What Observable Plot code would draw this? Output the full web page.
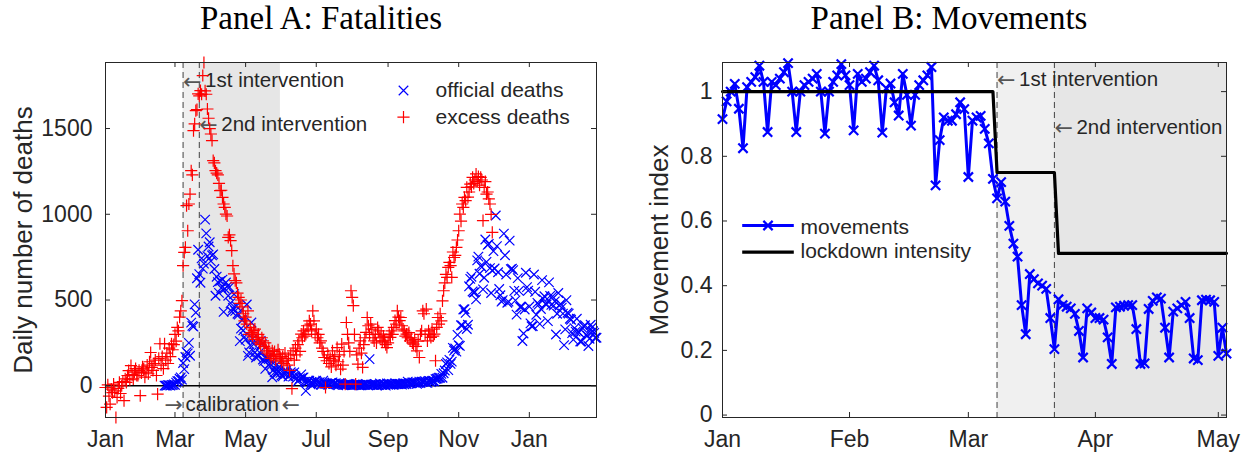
<!DOCTYPE html>
<html>
<head>
<meta charset="utf-8">
<script src="https://cdn.jsdelivr.net/npm/d3@7"></script>
<script src="https://cdn.jsdelivr.net/npm/@observablehq/plot@0.6"></script>
<style>
  body { margin: 0; background: #fff; }
  #fig { position: relative; width: 1252px; height: 456px; overflow: hidden; }
  .title {
    position: absolute; top: 0;
    font-family: "Liberation Serif", "Times New Roman", serif;
    font-size: 33px; line-height: 36.7px; color: #000;
    white-space: nowrap; transform: translateX(-50%);
  }
  .panel { position: absolute; top: 40px; }
</style>
</head>
<body>
<div id="fig">
  <div class="title" style="left:321px">Panel A: Fatalities</div>
  <div class="title" style="left:949px">Panel B: Movements</div>
  <div class="panel" id="panelA" style="left:0px"></div>
  <div class="panel" id="panelB" style="left:626px"></div>
</div>
<script>
// ---------- Panel A: daily deaths ----------
const excessStart = "2020-01-01";
const excessDeaths = [
  // Jan 2020
  -10, -126, 5, -60, -107, -20, -40, 10, -30, -185, -68, -15, 20, -45, 0, 25, -87, 40, 20, 60, 88, 35, 117, 65, 40, 80, 100, 60, 60, 90, -58,
  // Feb
  75, 110, 99, 50, 80, 120, 70, 140, 194, 107, 90, 130, 150, 60, -49, 160, 245, 120, 170, 100, 245, 150, 190, 130, 220, 170, 245, 210, 240,
  // Mar
  300, 260, 340, 320, 400, 437, 496, 700, 778, 807, 1050, 904, 1060, 1118, 1254, 1230, 1488, 1527, 1604, 1610, 1702, 1690, 1721, 1700, 1809, 1885, 1720, 1700, 1614, 1560, 1500,
  // Apr
  1468, 1430, 1313, 1300, 1254, 1240, 1230, 1180, 1138, 1140, 1099, 1060, 1040, 1001, 990, 865, 880, 846, 788, 700, 652, 613, 600, 540, 515, 480, 500, 460, 420, 379,
  // May
  400, 360, 437, 300, 340, 310, 290, 321, 330, 270, 282, 300, 250, 240, 280, 262, 230, 250, 204, 190, 220, 180, 160, 204, 170, 200, 150, 180, 210, 185, 160,
  // Jun
  140, 170, 130, 190, 146, 120, 160, 90, 180, -17, 204, 150, 220, 180, 240, 262, 200, 301, 280, 320, 290, 300, 350, 330, 379, 360, 320, 437, 379, 300,
  // Jul
  330, 280, 300, 250, 262, 220, 200, 165, -10, 146, 180, 130, 160, 110, 204, 150, 170, 120, 223, 140, 180, 97, 243, 120, 200, 10, 369, 300, 250, 200, 554,
  // Aug
  515, 467, 300, 10, 180, 126, 220, 262, 190, 107, 240, 280, 311, 398, 350, 300, 359, 330, 280, 262, 300, 250, 340, 320, 280, 301, 260, 290, 262, 240, 223,
  // Sep
  250, 300, 282, 320, 300, 340, 380, 360, 437, 400, 380, 398, 350, 330, 320, 290, 301, 280, 310, 262, 280, 250, 243, 270, 230, 204, 260, 165, 300, 320,
  // Oct
  437, 420, 300, 447, 262, 320, 300, 282, 330, 290, 301, 146, 340, 398, 360, 420, 379, 495, 554, 600, 650, 632, 690, 720, 700, 632, 780, 748, 760, 807, 850,
  // Nov
  904, 1001, 960, 1060, 1040, 1099, 1080, 1157, 1100, 1130, 1176, 1160, 1215, 1180, 1200, 1235, 1190, 1220, 1170, 1215, 1200, 963, 1157, 1190, 1118, 1130, 1090, 1060, 1000, 894
];

const officialStart = "2020-02-21";
const officialDeaths = [
  // Feb 21-29 2020
  1, 1, 1, 4, 4, 1, 5, 4, 8,
  // Mar
  5, 18, 27, 28, 41, 49, 36, 133, 97, 168, 196, 189, 250, 175, 368, 349, 345, 475, 427, 627, 793, 651, 601, 743, 683, 712, 969, 889, 756, 812, 837,
  // Apr
  727, 760, 766, 681, 525, 636, 604, 542, 610, 570, 619, 431, 566, 602, 578, 525, 575, 482, 433, 454, 534, 437, 464, 420, 415, 260, 333, 382, 323, 285,
  // May
  269, 474, 174, 195, 236, 369, 274, 243, 194, 165, 179, 172, 195, 262, 242, 153, 145, 99, 162, 161, 156, 130, 119, 50, 92, 78, 117, 70, 87, 111, 75,
  // Jun
  60, 55, 71, 88, 85, 72, 53, 65, 79, 71, 53, 78, 55, 44, 26, 34, 43, 66, 47, 49, 24, -30, 18, 30, 30, 8, 22, 6, 23, 22,
  // Jul
  30, 21, 15, 21, 7, 8, 30, 12, 12, 12, 7, 7, 13, 17, 20, 11, 13, 14, 9, 3, 15, 11, 9, 5, 5, 5, 5, 11, 10, 8, 5,
  // Aug
  3, 4, 8, 5, 6, 6, 3, 5, 3, 4, 5, 6, 10, 6, 3, 155, 7, 7, 6, 6, 9, 3, 4, 4, 13, 5, 5, 9, 9, 1, 13,
  // Sep
  6, 10, 6, 10, 7, 7, 14, 10, 10, 10, 10, 10, 7, 14, 9, 13, 10, 24, 14, 15, 14, 20, 20, 17, 20, 11, 17, 24, 16, 24,
  // Oct
  23, 24, 27, 18, 17, 28, 27, 22, 28, 29, 26, 39, 41, 43, 47, 47, 69, 47, 73, 89, 127, 136, 91, 151, 128, 141, 221, 205, 217, 199, 297,
  // Nov
  236, 233, 353, 352, 445, 446, 425, 331, 356, 580, 623, 636, 550, 544, 546, 504, 731, 753, 653, 699, 692, 562, 630, 853, 722, 822, 827, 686, 541, 672,
  // Dec
  785, 684, 993, 814, 662, 564, 528, 491, 499, 887, 761, 649, 484, 491, 846, 680, 683, 674, 553, 498, 415, 628, 553, 459, 459, 261, 305, 445, 659, 575, 555,
  // Jan 2021
  462, 364, 347, 348, 649, 548, 414, 483, 473, 361, 448, 616, 507, 522, 477, 475, 377, 603, 524, 472, 521, 467, 492, 299, 420, 541, 467, 477, 456, 421, 237,
  // Feb 2021
  329, 499, 426, 421, 391, 385, 307, 269, 336, 316, 391, 316, 311, 258, 258, 336, 347, 353, 297, 293, 232, 274, 356, 340, 318, 308, 280, 280
];

const interventionDates = ["2020-03-08", "2020-03-22"];
const interventionLabels = ["1st intervention", "2nd intervention"];
const calibrationStart = "2020-02-21";
const calibrationEnd = "2020-05-31";
const calibrationLabel = "calibration";
const panelAMonthTicks = ["2020-01-01", "2020-03-01", "2020-05-01", "2020-07-01", "2020-09-01", "2020-11-01", "2021-01-01"];
const deathTicks = [0, 500, 1000, 1500];
const panelALegend = ["official deaths", "excess deaths"];

// ---------- Panel B: movements ----------
const movementStart = "2020-01-01";
const movementIndex = [
  // Jan
  0.915, 0.97, 1.0, 1.024, 0.947, 0.825, 1.014, 1.03, 1.045, 1.08, 1.03, 0.875, 1.03, 1.02, 1.04, 1.06, 1.088, 1.0, 0.875, 1.0, 1.02, 1.03, 1.04, 1.055, 1.0, 0.87, 1.0, 1.03, 1.05, 1.085, 1.05,
  // Feb
  1.02, 0.88, 1.055, 1.03, 1.04, 1.06, 1.08, 1.035, 0.873, 1.01, 1.025, 0.967, 0.926, 1.055, 0.99, 0.895, 0.99, 1.02, 1.035, 1.05, 1.076, 0.71, 0.85, 0.92, 0.91, 0.91, 0.93, 0.967, 0.946,
  // Mar
  0.736, 0.91, 0.92, 0.925, 0.885, 0.84, 0.73, 0.67, 0.72, 0.66, 0.585, 0.53, 0.49, 0.34, 0.25, 0.436, 0.42, 0.407, 0.40, 0.39, 0.30, 0.204, 0.358, 0.34, 0.335, 0.33, 0.313, 0.26, 0.178, 0.33, 0.317,
  // Apr
  0.30, 0.30, 0.295, 0.24, 0.158, 0.333, 0.335, 0.338, 0.34, 0.34, 0.266, 0.158, 0.16, 0.328, 0.353, 0.364, 0.36, 0.27, 0.178, 0.32, 0.33, 0.34, 0.35, 0.30, 0.175, 0.17, 0.355, 0.357, 0.355, 0.35,
  // May 1-3
  0.183, 0.27, 0.19
];
const lockdownDates = ["2020-01-01", "2020-03-07", "2020-03-08", "2020-03-22", "2020-03-23", "2020-05-03"];
const lockdownIntensity = [1, 1, 0.75, 0.75, 0.5, 0.5];
const panelBMonthTicks = ["2020-01-01", "2020-02-01", "2020-03-01", "2020-04-01", "2020-05-01"];
const movementTicks = [0, 0.2, 0.4, 0.6, 0.8, 1];
const movementDomain = [-0.0075, 1.09];
const panelBLegend = ["movements", "lockdown intensity"];

// ---------- helpers ----------
const parse = d3.utcParse("%Y-%m-%d");
const daily = (start, values) => values.map((v, i) => ({date: d3.utcDay.offset(parse(start), i), value: v}));
const ink = "#262626";
const arrowInk = "#555";
const blue = "#0000ff";
const red = "#ff0000";
const fontFamily = "'Liberation Sans', Arial, Helvetica, sans-serif";
const arrowFont = "'DejaVu Sans', sans-serif";
const tickFont = 23;
const noteFont = 20.5;
const legendFont = 21;
const W = 626, H = 416;

// horizontal line symbol for legend samples
const hline = {
  draw(ctx, size) {
    const r = Math.sqrt(size / Math.PI);
    ctx.moveTo(-r, 0);
    ctx.lineTo(r, 0);
  }
};

// inward ticks on all four sides of the box
function boxTicks(xTicks, yTicks, innerW, innerH) {
  return [
    Plot.tickX(xTicks, {x: d => d, insetTop: innerH - 5, stroke: ink}),
    Plot.tickX(xTicks, {x: d => d, insetBottom: innerH - 5, stroke: ink}),
    Plot.tickY(yTicks, {y: d => d, insetRight: innerW - 5, stroke: ink}),
    Plot.tickY(yTicks, {y: d => d, insetLeft: innerW - 5, stroke: ink})
  ];
}

// "← label" notes hanging off the intervention lines
function interventionNotes(dyList) {
  return interventionDates.flatMap((d, i) => [
    Plot.text([parse(d)], {x: d => d, text: () => "←", frameAnchor: "top", textAnchor: "start", lineAnchor: "bottom",
      dy: dyList[i] + 1.5, fontSize: 22, fontFamily: arrowFont, fill: arrowInk}),
    Plot.text([parse(d)], {x: d => d, text: () => interventionLabels[i], frameAnchor: "top", textAnchor: "start", lineAnchor: "bottom",
      dx: 22, dy: dyList[i], fontSize: noteFont, fill: ink})
  ]);
}

// ---------- Panel A ----------
{
  const m = {left: 105, right: 30, top: 22, bottom: 39};
  const innerW = W - m.left - m.right, innerH = H - m.top - m.bottom;
  const excess = daily(excessStart, excessDeaths);
  const official = daily(officialStart, officialDeaths);
  const iv = interventionDates.map(parse);
  const calEnd = parse(calibrationEnd);
  const calStart = parse(calibrationStart);
  const xTicks = panelAMonthTicks.map(parse);
  const calibDy = -6.7;

  const plot = Plot.plot({
    width: W, height: H,
    marginLeft: m.left, marginRight: m.right, marginTop: m.top, marginBottom: m.bottom,
    style: {fontFamily, color: ink, background: "transparent", overflow: "visible"},
    x: {type: "utc", domain: d3.extent([...excess, ...official], d => d.date)},
    y: {domain: d3.extent(excess, d => d.value)},
    marks: [
      Plot.rect([{a: iv[0], b: calEnd}], {x1: "a", x2: "b", fill: "#f0f0f0"}),
      Plot.rect([{a: iv[1], b: calEnd}], {x1: "a", x2: "b", fill: "#e6e6e6"}),
      Plot.ruleX(iv, {x: d => d, stroke: "#444", strokeDasharray: "6,4", strokeWidth: 1}),
      Plot.ruleY([0], {stroke: "#000", strokeWidth: 1.3}),
      ...interventionNotes([24.7, 68]),
      // →calibration← along the bottom of the box
      Plot.text([calStart], {x: d => d, text: () => "→", frameAnchor: "bottom", textAnchor: "start", lineAnchor: "bottom",
        dy: calibDy + 1.5, fontSize: 22, fontFamily: arrowFont, fill: arrowInk}),
      Plot.text([calStart], {x: d => d, text: () => calibrationLabel, frameAnchor: "bottom", textAnchor: "start", lineAnchor: "bottom",
        dx: 21, dy: calibDy, fontSize: noteFont, fill: ink}),
      Plot.text([calStart], {x: d => d, text: () => "←", frameAnchor: "bottom", textAnchor: "start", lineAnchor: "bottom",
        dx: 117, dy: calibDy + 1.5, fontSize: 22, fontFamily: arrowFont, fill: arrowInk}),
      Plot.dot(official, {x: "date", y: "value", symbol: "times", r: 4.4, stroke: blue, strokeWidth: 1.2}),
      Plot.dot(excess, {x: "date", y: "value", symbol: "plus", r: 4, stroke: red, strokeWidth: 1.2}),
      // legend
      Plot.dot([panelALegend[0]], {frameAnchor: "top-left", dx: 298, dy: 28, symbol: "times", r: 4.4, stroke: blue, strokeWidth: 1.2}),
      Plot.dot([panelALegend[1]], {frameAnchor: "top-left", dx: 298, dy: 54.7, symbol: "plus", r: 4, stroke: red, strokeWidth: 1.2}),
      Plot.text([panelALegend[0]], {text: d => d, frameAnchor: "top-left", textAnchor: "start", lineAnchor: "bottom",
        dx: 330, dy: 34.7, fontSize: legendFont, fill: ink}),
      Plot.text([panelALegend[1]], {text: d => d, frameAnchor: "top-left", textAnchor: "start", lineAnchor: "bottom",
        dx: 330, dy: 61.2, fontSize: legendFont, fill: ink}),
      Plot.text(["Daily number of deaths"], {text: d => d, frameAnchor: "left", textAnchor: "middle", rotate: -90,
        dx: -81.7, fontSize: 26, fill: ink}),
      ...boxTicks(xTicks, deathTicks, innerW, innerH),
      Plot.axisX({ticks: xTicks, tickSize: 0, tickPadding: 13.5, tickFormat: d3.utcFormat("%b"), fontSize: tickFont, label: null}),
      Plot.axisY({ticks: deathTicks, tickSize: 0, tickPadding: 13, tickFormat: d => String(d), fontSize: tickFont, label: null}),
      Plot.frame({stroke: ink, strokeWidth: 1})
    ]
  });
  document.getElementById("panelA").append(plot);
}

// ---------- Panel B ----------
{
  const m = {left: 96, right: 26, top: 22, bottom: 39};
  const innerW = W - m.left - m.right, innerH = H - m.top - m.bottom;
  const movement = daily(movementStart, movementIndex);
  const lockdown = lockdownDates.map((d, i) => ({date: parse(d), value: lockdownIntensity[i]}));
  const iv = interventionDates.map(parse);
  const xTicks = panelBMonthTicks.map(parse);
  const xDomain = d3.extent(movement, d => d.date);

  const plot = Plot.plot({
    width: W, height: H,
    marginLeft: m.left, marginRight: m.right, marginTop: m.top, marginBottom: m.bottom,
    style: {fontFamily, color: ink, background: "transparent", overflow: "visible"},
    x: {type: "utc", domain: xDomain},
    y: {domain: movementDomain},
    marks: [
      Plot.rect([{a: iv[0], b: xDomain[1]}], {x1: "a", x2: "b", fill: "#f0f0f0"}),
      Plot.rect([{a: iv[1], b: xDomain[1]}], {x1: "a", x2: "b", fill: "#e6e6e6"}),
      Plot.ruleX(iv, {x: d => d, stroke: "#444", strokeDasharray: "6,4", strokeWidth: 1}),
      ...interventionNotes([23, 71.3]),
      Plot.line(movement, {x: "date", y: "value", stroke: blue, strokeWidth: 3}),
      Plot.dot(movement, {x: "date", y: "value", symbol: "times", r: 4.3, stroke: blue, strokeWidth: 2.2}),
      Plot.line(lockdown, {x: "date", y: "value", stroke: "#000", strokeWidth: 3.2}),
      // legend
      Plot.dot([panelBLegend[0]], {frameAnchor: "top-left", dx: 45.5, dy: 163, symbol: hline, r: 25.8, fill: "none", stroke: blue, strokeWidth: 3}),
      Plot.dot([panelBLegend[0]], {frameAnchor: "top-left", dx: 45.5, dy: 163, symbol: "times", r: 4.3, stroke: blue, strokeWidth: 2.2}),
      Plot.dot([panelBLegend[1]], {frameAnchor: "top-left", dx: 45.5, dy: 189.7, symbol: hline, r: 25.8, fill: "none", stroke: "#000", strokeWidth: 3.2}),
      Plot.text([panelBLegend[0]], {text: d => d, frameAnchor: "top-left", textAnchor: "start", lineAnchor: "bottom",
        dx: 78, dy: 171, fontSize: legendFont, fill: ink}),
      Plot.text([panelBLegend[1]], {text: d => d, frameAnchor: "top-left", textAnchor: "start", lineAnchor: "bottom",
        dx: 78, dy: 195, fontSize: legendFont, fill: ink}),
      Plot.text(["Movement index"], {text: d => d, frameAnchor: "left", textAnchor: "middle", rotate: -90,
        dx: -63.3, fontSize: 26, fill: ink}),
      ...boxTicks(xTicks, movementTicks, innerW, innerH),
      Plot.axisX({ticks: xTicks, tickSize: 0, tickPadding: 13.5, tickFormat: d3.utcFormat("%b"), fontSize: tickFont, label: null}),
      Plot.axisY({ticks: movementTicks, tickSize: 0, tickPadding: 10, tickFormat: d => String(d), fontSize: tickFont, label: null}),
      Plot.frame({stroke: ink, strokeWidth: 1})
    ]
  });
  document.getElementById("panelB").append(plot);
}
</script>
</body>
</html>
